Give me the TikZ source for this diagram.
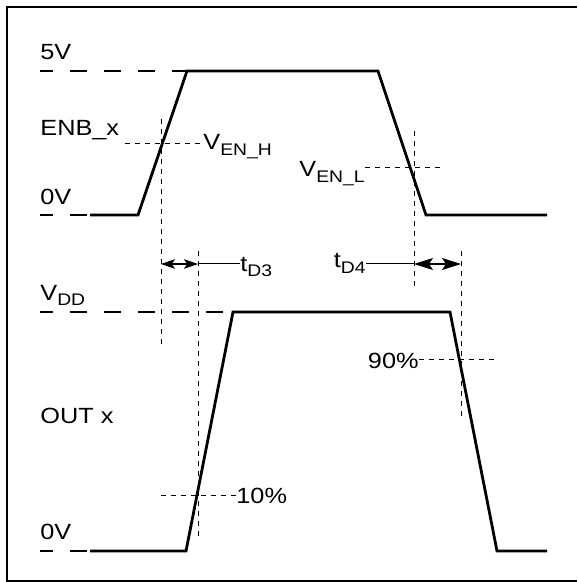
\documentclass[tikz,border=0pt]{standalone}
\usepackage{fontspec}
\setmainfont{Liberation Sans}
\usetikzlibrary{arrows.meta}
\newcommand{\WaveFont}{\fontsize{11}{13}\selectfont}
\newcommand{\WaveSub}{\fontsize{8.4}{9.5}\selectfont}
\newcommand{\wtext}[1]{\scalebox{1.15}[1]{#1}}
\newcommand{\wsub}[2]{\wtext{#1\raisebox{-2.8pt}{\WaveSub #2}}}
\tikzset{
  framebox/.style={draw=black, line width=1pt},
  sigline/.style={draw=black, line width=1.4pt, line join=miter},
  levelline/.style={draw=black, line width=1.4pt, dash pattern=on 8.5pt off 8.5pt, dash phase=2pt},
  guideline/.style={draw=black, line width=0.45pt, dash pattern=on 2.5pt off 2.5pt},
  leader/.style={draw=black, line width=0.5pt},
  delayarrow/.style={
    {Stealth[length=7pt,width=4.8pt,inset=1.6pt]}-{Stealth[length=7pt,width=4.8pt,inset=1.6pt]},
    draw=black,
    line width=0.6pt
  },
  widearrow/.style={
    {Stealth[length=9.5pt,width=6pt,inset=2pt]}-{Stealth[length=9.5pt,width=6pt,inset=2pt]},
    draw=black,
    line width=0.6pt
  },
  sigtext/.style={font=\WaveFont, inner sep=0pt, anchor=base west},
  sigtextr/.style={sigtext, anchor=base east}
}
\begin{document}
\begin{tikzpicture}[x=0.5pt,y=-0.5pt]
\useasboundingbox (0,0) rectangle (577,582);

% outer frame (right side cut off)
\draw[framebox] (577,7) -- (6.5,7) -- (6.5,581) -- (577,581);

% ENB_x waveform
\coordinate (enHiStart) at (40,71);
\coordinate (enLoStart) at (40,215);
\coordinate (en0) at (90,215);
\coordinate (en1) at (138,215);
\coordinate (en2) at (187,71);
\coordinate (en3) at (378,71);
\coordinate (en4) at (426,215);
\coordinate (en5) at (547,215);
\draw[levelline] (enHiStart) -- (en2);
\draw[levelline] (enLoStart) -- (en0);
\draw[sigline] (en0) -- (en1) -- (en2) -- (en3) -- (en4) -- (en5);

% OUT x waveform
\coordinate (outHiStart) at (40,312);
\coordinate (outLoStart) at (40,551);
\coordinate (out0) at (90,551);
\coordinate (out1) at (186,551);
\coordinate (out2) at (233,312);
\coordinate (out3) at (450,312);
\coordinate (out4) at (497,551);
\coordinate (out5) at (547,551);
\draw[levelline] (outHiStart) -- (out2);
\draw[levelline] (outLoStart) -- (out0);
\draw[sigline] (out0) -- (out1) -- (out2) -- (out3) -- (out4) -- (out5);

% level labels
\node[sigtext] (lbl5v) at (40,60) {\wtext{5V}};
\node[sigtext] (lblenb) at (40,136) {\wtext{ENB\_x}};
\node[sigtext] (lbl0va) at (40,205) {\wtext{0V}};
\node[sigtext] (lblvdd) at (40,300) {\wsub{V}{DD}};
\node[sigtext] (lblout) at (40,423) {\wtext{OUT x}};
\node[sigtext] (lbl0vb) at (40,539) {\wtext{0V}};

% threshold guides
\node[sigtext] (venh) at (203,150) {\wsub{V}{EN\_H}};
\draw[guideline] (125,143) -- (venh.west |- 0,143);
\draw[guideline] (161,119) -- (161,348);
\node[sigtextr] (venl) at (365,177) {\wsub{V}{EN\_L}};
\draw[guideline] (venl.east |- 0,167) -- (442,167);
\draw[guideline] (414,131) -- (414,287);
\node[sigtext] (p10) at (236,503) {\wtext{10\%}};
\draw[guideline] (161,495) -- (p10.west |- 0,495);
\draw[guideline] (198,251) -- (198,540);
\node[sigtextr] (p90) at (419,368) {\wtext{90\%}};
\draw[guideline] (p90.east |- 0,359) -- (497,359);
\draw[guideline] (461,251) -- (461,420);

% delay arrows
\coordinate (d3a) at (161,264);
\coordinate (d3b) at (198,264);
\node[sigtext] (td3) at (240,271) {\wsub{t}{D3}};
\draw[delayarrow] (d3a) -- (d3b);
\draw[leader] (d3b) -- (d3b -| td3.west);
\coordinate (d4a) at (414,264);
\coordinate (d4b) at (461,264);
\node[sigtextr] (td4) at (366,268) {\wsub{t}{D4}};
\draw[widearrow] (d4a) -- (d4b);
\draw[leader] (d4a -| td4.east) -- (d4a);
\end{tikzpicture}
\end{document}
